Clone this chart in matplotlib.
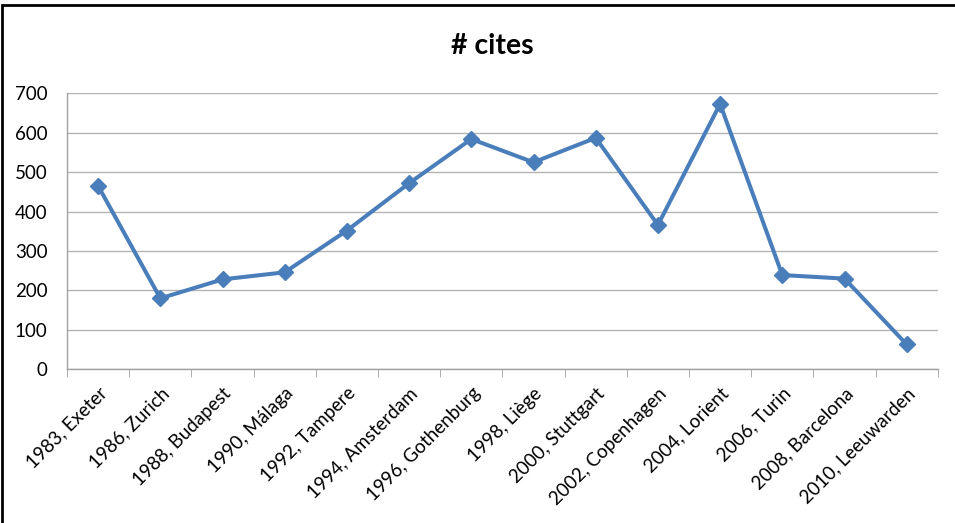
import numpy as np
import matplotlib
matplotlib.use("Agg")
import matplotlib.pyplot as plt
from matplotlib.patches import Rectangle

plt.rcParams['font.family'] = ['Lato', 'DejaVu Sans']

# data
venues = ["1983, Exeter", "1986, Zurich", "1988, Budapest", "1990, Málaga",
          "1992, Tampere", "1994, Amsterdam", "1996, Gothenburg", "1998, Liège",
          "2000, Stuttgart", "2002, Copenhagen", "2004, Lorient", "2006, Turin",
          "2008, Barcelona", "2010, Leeuwarden"]
cites = [465, 180, 228, 246, 352, 472, 584, 525, 587, 366, 673, 239, 230, 63]
yticks = [0, 100, 200, 300, 400, 500, 600, 700]

fig = plt.figure(figsize=(9.55, 5.23), dpi=100)
ax = fig.add_axes([0.0702, 0.2939, 0.9118, 0.5277])

x = np.arange(len(venues))
ax.plot(x, cites, color='#4A7EBB', linewidth=2.9, marker='D', markersize=8.5,
        markeredgecolor='#4A7EBB', markerfacecolor='#4A7EBB', zorder=3)

ax.set_xlim(-0.5, len(venues) - 0.5)
ax.set_ylim(0, 700)
ax.set_yticks(yticks)
ax.yaxis.grid(True, color='#B4B4B4', linewidth=1)
ax.set_axisbelow(True)

ax.set_xticks(x)
ax.set_xticklabels(venues, rotation=45, ha='right', rotation_mode='anchor', fontsize=13.5)
ax.set_xticks(np.arange(-0.5, len(venues), 1), minor=True)
ax.tick_params(axis='x', which='major', length=0, pad=11)
ax.tick_params(axis='x', which='minor', length=6, color='#A0A0A0', direction='out')
ax.tick_params(axis='y', length=0, pad=14, labelsize=13.5)

for s in ['top', 'right']:
    ax.spines[s].set_visible(False)
for s in ['left', 'bottom']:
    ax.spines[s].set_color('#A0A0A0')
    ax.spines[s].set_linewidth(1)

fig.text(0.516, 0.912, "# cites", ha='center', va='center', fontsize=20.5, fontweight='bold')

# outer frame like the chart area border
fig.patches.append(Rectangle((2 / 955, -0.1), 1.1, 1 - 5 / 523 + 0.1, transform=fig.transFigure,
                             fill=False, edgecolor='black', linewidth=2))

fig.savefig("out.png", dpi=100)
